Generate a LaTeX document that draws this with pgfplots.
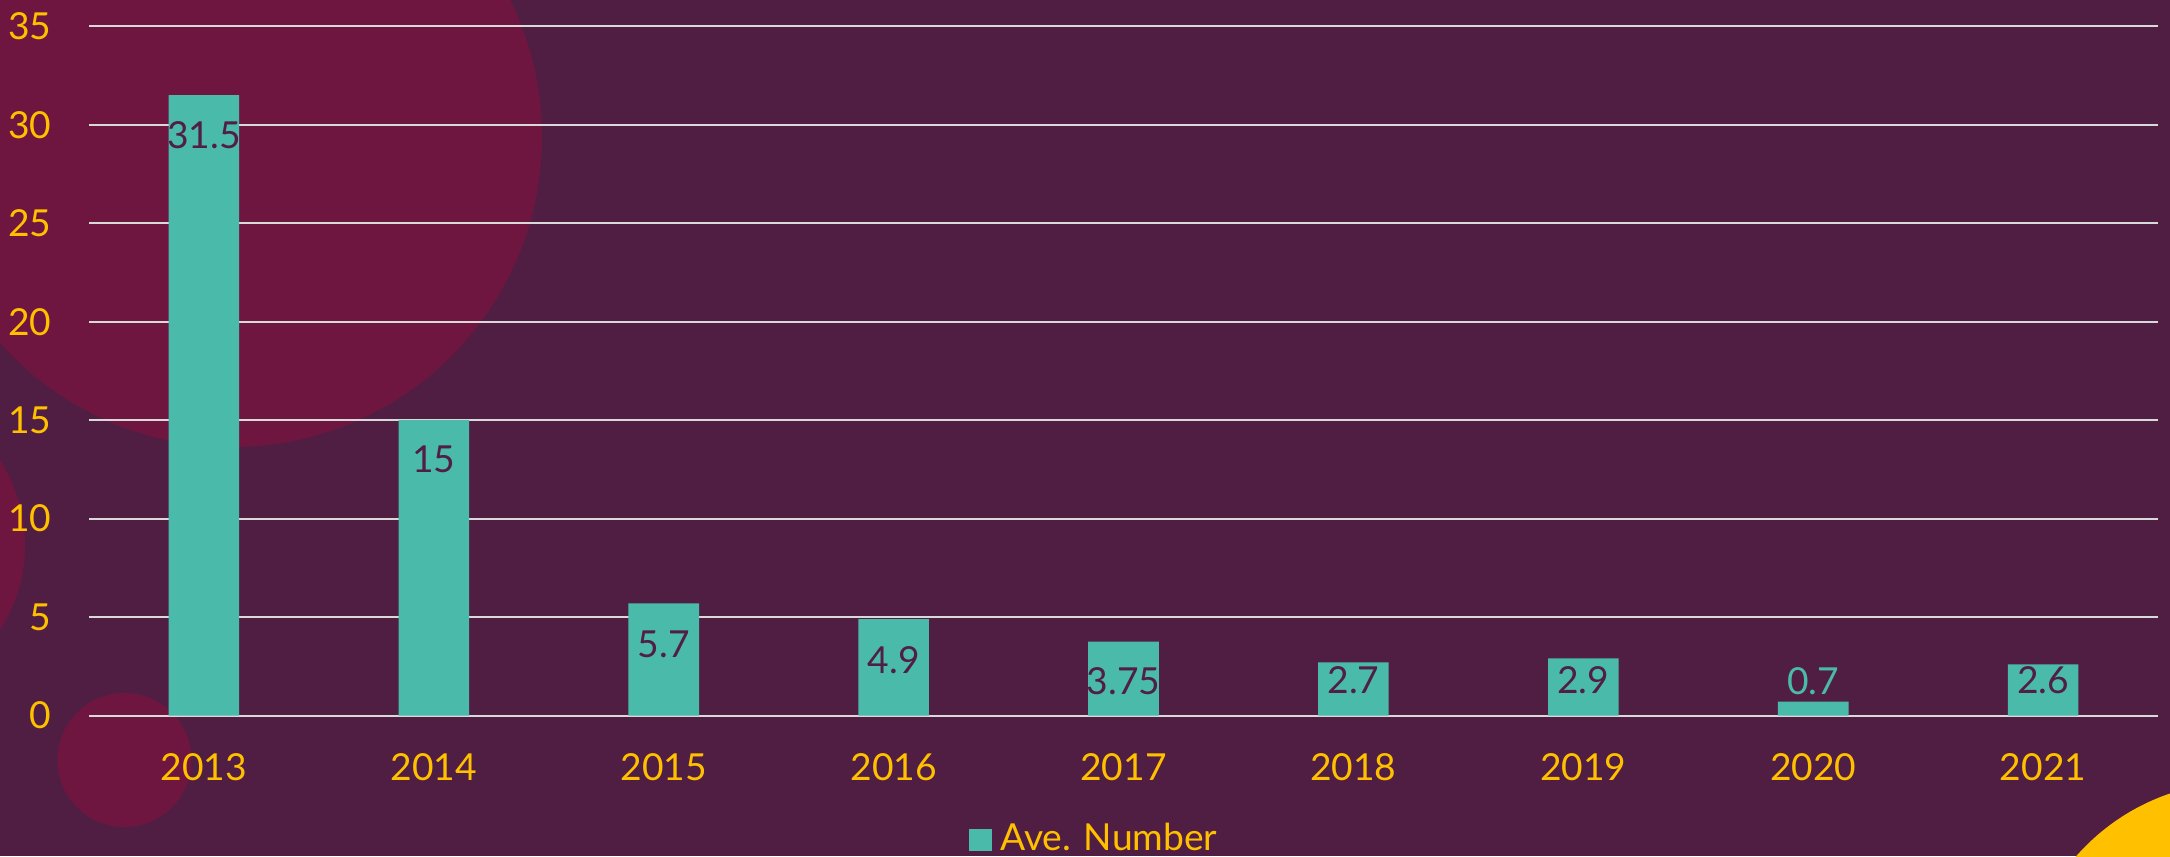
\documentclass[border=0pt]{standalone}
\usepackage{fontspec}
\setmainfont{Lato}
\usepackage{pgfplots}
\pgfplotsset{compat=1.18}
\definecolor{bg}{RGB}{80,30,67}
\definecolor{blob}{RGB}{110,22,64}
\definecolor{barteal}{RGB}{74,187,170}
\definecolor{ylw}{RGB}{255,192,0}
\definecolor{grd}{RGB}{217,217,217}
\definecolor{lbl}{RGB}{80,30,70}
\newcommand{\cf}{\fontsize{9.3}{11}\selectfont}
\begin{document}
\begin{tikzpicture}
\useasboundingbox (0pt,0pt) rectangle (542.5pt,214pt);
\clip (0pt,0pt) rectangle (542.5pt,214pt);
\fill[bg] (0pt,0pt) rectangle (542.5pt,214pt);
\fill[blob] (58pt,179.75pt) circle[radius=77.5pt];
\fill[blob] (-33pt,77.75pt) circle[radius=39.25pt];
\fill[blob] (31.125pt,24pt) circle[radius=16.75pt];
\fill[ylw] (560pt,-36pt) circle[radius=54.5pt];
\begin{axis}[
  at={(22.25pt,35.125pt)}, anchor=south west,
  width=517.25pt, height=172.3pt, scale only axis,
  xmin=-0.5, xmax=8.5, ymin=0, ymax=35,
  ytick={0,5,...,35}, xtick={0,...,8},
  xticklabels={2013,2014,2015,2016,2017,2018,2019,2020,2021},
  axis line style={draw=none}, major tick length=0pt,
  ymajorgrids, grid style={grd, line width=0.5pt},
  tick label style={font=\cf, text=ylw, inner sep=0pt},
  yticklabel style={anchor=east, xshift=-9.25pt},
  xticklabel style={anchor=center, yshift=-12.9pt},
  /pgf/number format/assume math mode=true,
  clip=false,
  legend style={at={(0.4874,-0.1807)}, anchor=center, draw=none, fill=none,
    font=\cf, text=ylw, inner sep=0pt},
]
\addplot[ybar, bar width=17.65pt, bar shift=0pt, fill=barteal, draw=none,
  legend image code/.code={\fill[barteal] (0pt,-2.85pt) rectangle (5.75pt,2.85pt);}]
  coordinates {(0,31.5) (1,15) (2,5.7) (3,4.9) (4,3.75) (5,2.7) (6,2.9) (7,0.7) (8,2.6)};
\addlegendentry{Ave. Number}
\addplot[draw=none, mark=none, forget plot, nodes near coords, point meta=explicit symbolic,
  nodes near coords style={anchor=center, inner sep=0pt, text=lbl, font=\cf}]
  table[meta=l] {
x y l
0 29.45 31.5
1 13.0 15
2 3.59 5.7
3 2.82 4.9
4 1.75 3.75
5 1.80 2.7
6 1.80 2.9
8 1.80 2.6
};
\addplot[draw=none, mark=none, forget plot, nodes near coords, point meta=explicit symbolic,
  nodes near coords style={anchor=center, inner sep=0pt, text=barteal, font=\cf}]
  table[meta=l] {
x y l
7 1.76 0.7
};
\end{axis}
\end{tikzpicture}
\end{document}
